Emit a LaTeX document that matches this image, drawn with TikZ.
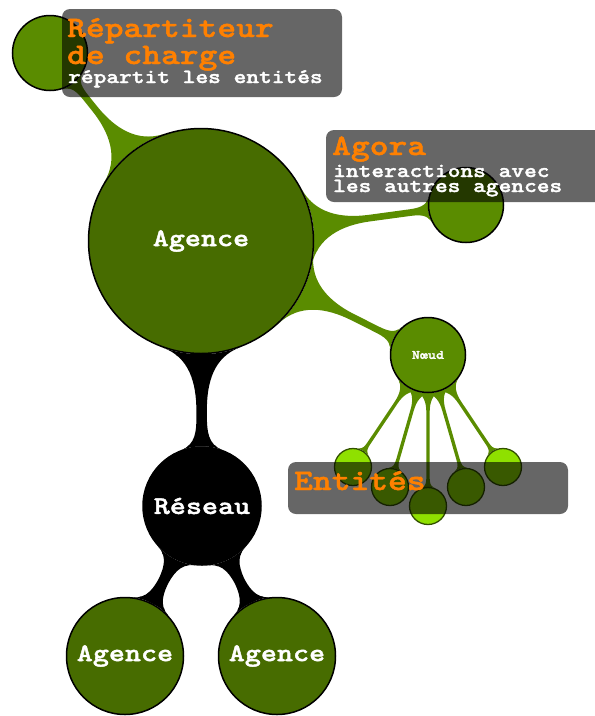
\documentclass[tikz,border=0pt]{standalone}
\usepackage{fontspec}
\newfontfamily\courf{lmmonolt10-bold}[Extension=.otf, FakeBold=1.6, FakeStretch=1.2]
\usetikzlibrary{mindmap,backgrounds}
\definecolor{grn}{RGB}{90,140,0}
\definecolor{dkgrn}{RGB}{71,108,0}
\definecolor{ltgrn}{RGB}{143,224,0}
\definecolor{entline}{RGB}{50,80,0}
\definecolor{orng}{RGB}{255,128,0}
\begin{document}
\begin{tikzpicture}[x=1pt,y=-1pt,
  cpt/.style={circle, draw=black, line width=1.5pt, inner sep=0pt, minimum size=#1, text=white,
              font=\courf\fontsize{25.5}{27}\selectfont},
  ent/.style={circle, draw=entline, line width=1.3pt, fill=ltgrn, inner sep=0pt, minimum size=37pt},
  overlay box/.style={fill=black, fill opacity=0.6, draw=none, rounded corners=8pt},
  bigt/.style={anchor=base west, inner sep=0pt, text=orng, font=\courf\fontsize{29.8}{31}\selectfont},
  smallt/.style={anchor=base west, inner sep=0pt, text=white, font=\courf\fontsize{20.2}{21}\selectfont},
  gbar/.style={line width=#1, circle connection bar switch color=from (grn) to (grn)},
  kbar/.style={line width=#1, circle connection bar switch color=from (black) to (black)}
]
\useasboundingbox (0,0) rectangle (595,716);
% concepts
\node[cpt=225pt, fill=dkgrn] (ag) at (201,241) {Agence};
\node[cpt=75pt, fill=grn] (rep) at (50,53) {};
\node[cpt=75pt, fill=grn] (ago) at (466,205) {};
\node[cpt=75pt, fill=grn, font=\courf\fontsize{12.8}{14}\selectfont] (nd) at (428,355) {Nœud};
\node[cpt=118pt, fill=black] (res) at (202,506) {Réseau};
\node[cpt=117pt, fill=dkgrn] (agl) at (125,656) {Agence};
\node[cpt=117pt, fill=dkgrn] (agr) at (277,656) {Agence};
\node[ent] (e1) at (353,467) {};
\node[ent] (e2) at (390,487) {};
\node[ent] (e3) at (428,506) {};
\node[ent] (e4) at (466,487) {};
\node[ent] (e5) at (503,467) {};
% connection bars
\begin{pgfonlayer}{background}
\path (ag) to[gbar=6pt] (rep);
\path (ag) to[gbar=7pt] (ago);
\path (ag) to[gbar=7pt] (nd);
\path (ag) to[kbar=10pt] (res);
\path (res) to[kbar=8pt] (agl);
\path (res) to[kbar=8pt] (agr);
\foreach \e in {e1,e2,e3,e4,e5}{\path (nd) to[gbar=4pt] (\e);}
\end{pgfonlayer}
% overlay boxes
\fill[overlay box] (62,9) rectangle (342,97);
\fill[overlay box] (326,130) rectangle (615,202);
\fill[overlay box] (288,462) rectangle (568,514);
% texts
\node[bigt] (t1) at (67,37) {Répartiteur};
\node[bigt] (t2) at (67,64) {de charge};
\node[smallt] (t3) at (68,83) {répartit les entités};
\node[bigt] (t4) at (332,155) {Agora};
\node[smallt] (t5) at (333,177) {interactions avec};
\node[smallt] (t6) at (333,192) {les autres agences};
\node[bigt] (t7) at (294,490) {Entités};
\end{tikzpicture}
\end{document}
